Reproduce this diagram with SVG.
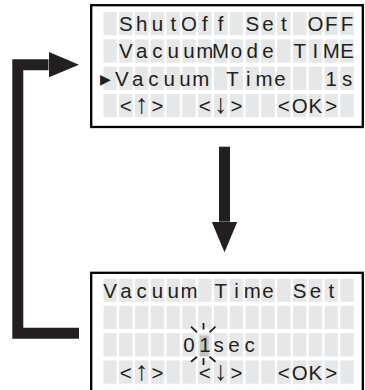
<svg xmlns="http://www.w3.org/2000/svg" width="365" height="390" viewBox="0 0 365 390">
<style>
.box{fill:#fff;stroke:#000;stroke-width:2.3}
.lcd{font-family:"Liberation Sans",Arial,sans-serif;font-size:20.5px;fill:#231f20;text-anchor:middle}
.arw{font-size:27px}
.cur{font-family:"DejaVu Sans",sans-serif;font-size:14px;fill:#231f20;text-anchor:middle}
.conn{fill:none;stroke:#231f20;stroke-width:11;stroke-linejoin:miter;stroke-linecap:butt}
.spark{stroke:#231f20;stroke-width:1.8;stroke-linecap:butt}
</style>
<defs>
<pattern id="cells" patternUnits="userSpaceOnUse" x="0" y="0" width="15.8" height="27.3">
<rect x="0" y="0" width="13.5" height="23.3" fill="#e6e7e8"/>
</pattern>
<marker id="head" markerUnits="userSpaceOnUse" markerWidth="31" markerHeight="26" refX="0" refY="12.8" orient="auto">
<path d="M0,0 L30.5,12.8 L0,25.6 z" fill="#231f20"/>
</marker>
</defs>

<g id="menu-screen">
<rect class="box" x="91.2" y="5.2" width="271.6" height="121.8"/>
<g transform="translate(103.3,12)"><rect width="252.8" height="109.2" fill="url(#cells)"/></g>
<text class="lcd" xml:space="preserve" x="125.85 141.65 157.45 173.25 189.05 204.85 220.65 236.45 252.25 268.05 283.85 299.65 315.45 331.25 347.05" y="31">ShutOff Set OFF</text>
<text class="lcd" xml:space="preserve" x="125.85 141.65 157.45 173.25 189.05 204.85 220.65 236.45 252.25 268.05 283.85 299.65 315.45 331.25 347.05" y="58.3">VacuumMode TIME</text>
<text class="lcd" xml:space="preserve" y="85.6"><tspan class="cur" x="105.5" y="83.5">▶</tspan><tspan x="121.85 137.65 153.45 169.25 185.05 200.85 216.65 232.45 248.25 264.05 279.85 299.65 315.45 331.25 347.05" y="85.6">Vacuum Time  1s</tspan></text>
<text class="lcd" xml:space="preserve" x="125.85 141.65 157.45 173.25 189.05 204.85 220.65 236.45 252.25 268.05 283.85 299.65 315.45 331.25" y="112.9">&lt;<tspan class="arw">↑</tspan>&gt;  &lt;<tspan class="arw">↓</tspan>&gt;  &lt;OK&gt;</text>
</g>

<g id="set-screen">
<rect class="box" x="91.2" y="272.8" width="271.6" height="125"/>
<g transform="translate(103.3,278.5)"><rect width="252.8" height="109.2" fill="url(#cells)"/></g>
<rect x="199.8" y="335.5" width="9" height="21" fill="#c4c5c7"/>
<text class="lcd" xml:space="preserve" x="110.05 125.85 141.65 157.45 173.25 189.05 204.85 220.65 236.45 252.25 268.05 283.85 299.65 315.45 331.25" y="297.5">Vacuum Time Set</text>
<text class="lcd" x="189.05 204.85 218.5 234 249.5" y="352.3">01sec</text>
<text class="lcd" xml:space="preserve" x="125.85 141.65 157.45 173.25 189.05 204.85 220.65 236.45 252.25 268.05 283.85 299.65 315.45 331.25" y="379.6">&lt;<tspan class="arw">↑</tspan>&gt;  &lt;<tspan class="arw">↓</tspan>&gt;  &lt;OK&gt;</text>
<g class="spark">
<line x1="203.5" y1="323" x2="203.5" y2="329.5"/>
<line x1="191" y1="326.7" x2="197" y2="332.3"/>
<line x1="215.5" y1="326.7" x2="209.5" y2="332.3"/>
<line x1="203.5" y1="358" x2="203.5" y2="365"/>
<line x1="197" y1="356.7" x2="191" y2="361.7"/>
<line x1="209.5" y1="356.7" x2="215.5" y2="361.7"/>
</g>
</g>

<g id="connectors">
<path class="conn" d="M224.5,146.7 V221.7" marker-end="url(#head)"/>
<path class="conn" d="M79,333.2 H17.8 V64.7 H48.5" marker-end="url(#head)"/>
</g>
</svg>
